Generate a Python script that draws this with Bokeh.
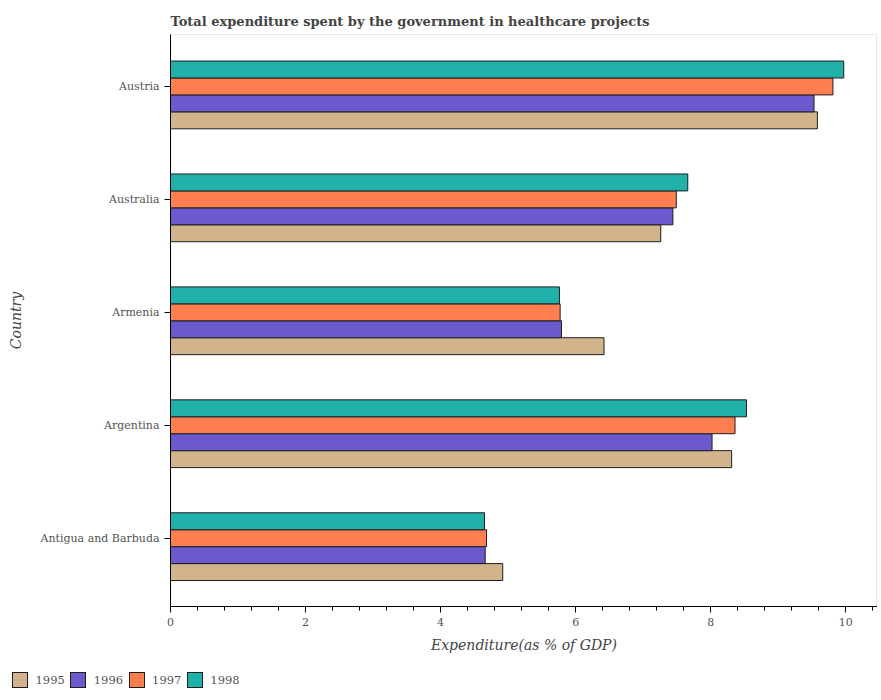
from bokeh.plotting import figure
from bokeh.layouts import column
from bokeh.models import (ColumnDataSource, Div, FixedTicker,
                          Range1d, SingleIntervalTicker)
from bokeh.transform import dodge
from bokeh.embed import file_html
from bokeh.resources import INLINE

countries = ["Antigua and Barbuda", "Argentina", "Armenia", "Australia", "Austria"]
years = ["1995", "1996", "1997", "1998"]
v1995 = [4.92, 8.31, 6.42, 7.26, 9.58]
v1996 = [4.66, 8.02, 5.79, 7.44, 9.53]
v1997 = [4.68, 8.36, 5.77, 7.49, 9.81]
v1998 = [4.65, 8.53, 5.76, 7.66, 9.97]
colors = ["#D2B48C", "#6A5ACD", "#FF7F50", "#20B2AA"]

series = [v1995, v1996, v1997, v1998]
ypos = list(range(len(countries)))
data = {"y": ypos, "country": countries}
for yr, vals in zip(years, series):
    data["v" + yr] = vals
source = ColumnDataSource(data)

SERIF = "DejaVu Serif"
TXT = "#555555"

p = figure(frame_width=707, frame_height=572,
           x_range=Range1d(0, 10.47), y_range=Range1d(-0.605, 4.46),
           output_backend="svg", toolbar_location=None,
           min_border_left=170, min_border_right=0, min_border_top=34,
           min_border_bottom=58,
           title="Total expenditure spent by the government in healthcare projects")

p.title.text_font = SERIF
p.title.text_font_size = "13px"
p.title.text_font_style = "bold"
p.title.text_color = "#444444"
p.title.align = "left"
p.title.standoff = 11

bar_h = 0.15
offsets = [-0.30, -0.15, 0.0, 0.15]
for yr, off, col in zip(years, offsets, colors):
    p.hbar(y=dodge("y", off, range=p.y_range), right="v" + yr, left=0,
           height=bar_h, source=source, fill_color=col,
           line_color="#1e1e1e", line_width=1)

p.xgrid.visible = False
p.ygrid.visible = False
p.outline_line_color = "#e8e8e8"
p.background_fill_color = "white"

# x axis
xa = p.xaxis[0]
xa.ticker = SingleIntervalTicker(interval=2, num_minor_ticks=5)
xa.axis_label = "Expenditure(as % of GDP)"
xa.axis_label_text_font = SERIF
xa.axis_label_text_font_style = "italic"
xa.axis_label_text_font_size = "14px"
xa.axis_label_text_color = "#444444"
xa.axis_label_standoff = 8
xa.major_label_text_font = SERIF
xa.major_label_text_font_size = "11px"
xa.major_label_text_color = TXT
xa.axis_line_color = "black"
xa.major_tick_line_color = "black"
xa.minor_tick_line_color = "black"
xa.major_tick_out = 6
xa.major_tick_in = 0
xa.minor_tick_out = 4
xa.minor_tick_in = 0

# y axis
ya = p.yaxis[0]
ya.ticker = FixedTicker(ticks=ypos)
ya.major_label_overrides = {i: c for i, c in zip(ypos, countries)}
ya.axis_label = "Country"
ya.axis_label_text_font = SERIF
ya.axis_label_text_font_style = "italic"
ya.axis_label_text_font_size = "14px"
ya.axis_label_text_color = "#444444"
ya.axis_label_standoff = 14
ya.major_label_text_font = SERIF
ya.major_label_text_font_size = "11px"
ya.major_label_text_color = TXT
ya.axis_line_color = "black"
ya.major_tick_line_color = "black"
ya.minor_tick_line_color = None
ya.major_tick_out = 6
ya.major_tick_in = 0

# legend row below the chart, built from the same years / colours
items_html = "".join(
    f'<span style="display:inline-block;width:16px;height:16px;box-sizing:border-box;'
    f'border:1px solid #1e1e1e;background:{c};margin-right:7.5px;"></span>'
    f'<span style="margin-right:5.5px;">{yr}</span>'
    for yr, c in zip(years, colors))
legend_div = Div(
    text=(f'<div style="display:flex;align-items:center;font-family:\'{SERIF}\';'
          f'font-size:11.5px;color:{TXT};padding:8px 0 0 12px;line-height:16px;'
          f'white-space:nowrap;">{items_html}</div>'),
    width=877, height=26, margin=0)

layout = column(p, legend_div, spacing=0)
open("out.html", "w").write(file_html(layout, INLINE))
